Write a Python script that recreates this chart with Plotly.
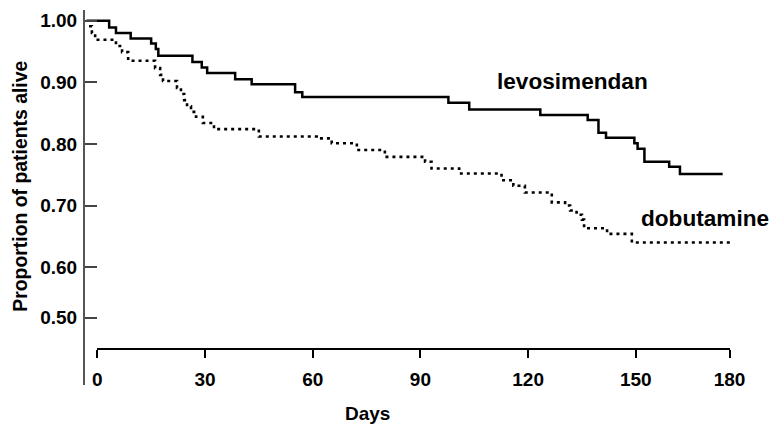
import plotly.graph_objects as go

# ---- data (Kaplan-Meier steps) ----
levo_days = [-3.0, 3.3, 5.2, 9.3, 15.0, 16.3, 17.0, 26.5, 29.1, 30.6,
             38.4, 43.0, 55.1, 57.1, 97.8, 103.6, 123.4, 136.6, 139.6, 141.7,
             149.6, 150.5, 152.4, 159.3, 162.3, 174.2]
levo_surv = [1.000, 0.989, 0.980, 0.971, 0.963, 0.954, 0.943, 0.933, 0.924, 0.915,
             0.905, 0.897, 0.884, 0.876, 0.867, 0.856, 0.847, 0.839, 0.818, 0.810,
             0.801, 0.792, 0.771, 0.763, 0.751, 0.751]

dobu_days = [-2.3, -1.5, -0.6, 5.2, 6.9, 8.6, 16.1, 17.5, 18.3, 22.2,
             23.3, 24.2, 25.0, 26.1, 27.5, 29.4, 32.5, 45.0, 61.1, 65.3,
             72.3, 80.1, 91.3, 93.1, 100.8, 112.6, 115.9, 119.1, 126.6, 130.3,
             131.7, 133.5, 135.0, 135.6, 142.0, 148.9, 176.7]
dobu_surv = [0.991, 0.980, 0.969, 0.959, 0.949, 0.935, 0.923, 0.912, 0.902, 0.891,
             0.881, 0.871, 0.861, 0.852, 0.844, 0.834, 0.824, 0.812, 0.809, 0.801,
             0.790, 0.779, 0.771, 0.760, 0.752, 0.741, 0.732, 0.721, 0.705, 0.700,
             0.692, 0.685, 0.677, 0.663, 0.654, 0.640, 0.640]

x_tickvals = [0, 30, 60, 90, 120, 150, 176.1]
x_ticktext = ["0", "30", "60", "90", "120", "150", "180"]
y_tickvals = [0.5177, 0.6, 0.7, 0.8, 0.9, 1.0]
y_ticktext = ["0.50", "0.60", "0.70", "0.80", "0.90", "1.00"]

series_labels = ["levosimendan", "dobutamine"]

FONT = "Liberation Sans, Arial, Helvetica, sans-serif"

fig = go.Figure()
fig.add_trace(go.Scatter(x=levo_days, y=levo_surv, mode="lines", line_shape="hv",
                         line=dict(color="black", width=2.5),
                         name=series_labels[0], showlegend=False, hoverinfo="skip"))
fig.add_trace(go.Scatter(x=dobu_days, y=dobu_surv, mode="lines", line_shape="hv",
                         line=dict(color="black", width=2.6, dash="3px,4px"),
                         name=series_labels[1], showlegend=False, hoverinfo="skip"))
# empty trace registering the visible (detached) day axis
fig.add_trace(go.Scatter(x=[], y=[], xaxis="x2", yaxis="y", showlegend=False,
                         hoverinfo="skip"))

L, R, T, B = 85, 30, 10, 41
W, H = 770, 426
pw = W - L - R
ph = H - T - B
px_per_day = 107.7 / 30.0
x0_px = 97.3

fig.update_layout(
    width=W, height=H,
    margin=dict(l=L, r=R, t=T, b=B, pad=0),
    paper_bgcolor="white", plot_bgcolor="rgba(0,0,0,0)",
    font=dict(family=FONT, color="black"),
    xaxis=dict(domain=[0, 1], visible=False,
               range=[(L - x0_px) / px_per_day, (L - x0_px + pw) / px_per_day]),
    xaxis2=dict(domain=[(x0_px - L) / pw, (729.7 - L) / pw],
                range=[0, (729.7 - x0_px) / px_per_day],
                anchor="free", position=(H - B - 348.7) / ph,
                showline=True, linecolor="black", linewidth=1.6,
                ticks="outside", ticklen=8, tickwidth=1.5, tickcolor="black",
                tickvals=x_tickvals, ticktext=x_ticktext,
                tickfont=dict(family=FONT, size=19, weight="bold", color="black"),
                ticklabelstandoff=6,
                showgrid=False, zeroline=False, fixedrange=True),
    yaxis=dict(domain=[0, 1], anchor="x",
               range=[1 - (H - B - 20.7) / 616.0, 1 + (20.7 - T) / 616.0],
               showline=True, linecolor="#555555", linewidth=2,
               ticks="inside", ticklen=12, tickwidth=1.5, tickcolor="#444444",
               tickvals=y_tickvals, ticktext=y_ticktext,
               tickfont=dict(family=FONT, size=19, weight="bold", color="black"),
               ticklabelstandoff=2,
               showgrid=False, zeroline=False, fixedrange=True),
    annotations=[
        dict(text=series_labels[0], x=110.9, y=0.9005, xref="x", yref="y",
             xanchor="left", yanchor="middle", showarrow=False,
             font=dict(family=FONT, size=22.6, weight="bold", color="black")),
        dict(text=series_labels[1], x=150.8, y=0.6784, xref="x", yref="y",
             xanchor="left", yanchor="middle", showarrow=False,
             font=dict(family=FONT, size=22.6, weight="bold", color="black")),
        dict(text="Days", x=(367.5 - L) / pw, y=(H - B - 414) / ph,
             xref="paper", yref="paper", xanchor="center", yanchor="middle",
             showarrow=False,
             font=dict(family=FONT, size=19, weight="bold", color="black")),
        dict(text="Proportion of patients alive", x=(19.9 - L) / pw,
             y=(H - B - 185.8) / ph, xref="paper", yref="paper",
             xanchor="center", yanchor="middle", textangle=-90, showarrow=False,
             font=dict(family=FONT, size=19.4, weight="bold", color="black")),
    ],
)

fig.write_html("out.html", config={"displayModeBar": False},
               post_script="document.body.style.margin='0px';")
